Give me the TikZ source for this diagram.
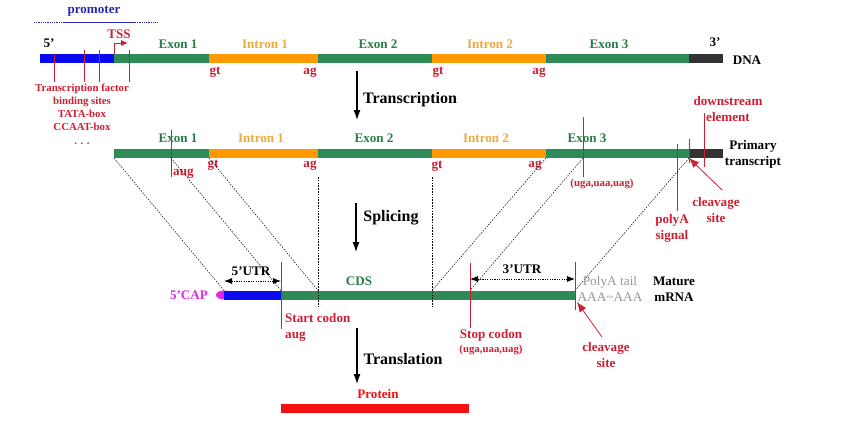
\documentclass[tikz,border=0pt]{standalone}
\usepackage{fontspec}
\setmainfont{Liberation Serif}
\usepackage{tikz}
\usetikzlibrary{positioning,arrows.meta}
\definecolor{exongreen}{RGB}{46,139,87}
\definecolor{intronorange}{RGB}{255,153,0}
\definecolor{exontext}{RGB}{40,125,70}
\definecolor{introntext}{RGB}{238,170,60}
\definecolor{promblue}{RGB}{10,10,240}
\definecolor{promtext}{RGB}{40,40,175}
\definecolor{flankgray}{RGB}{51,51,51}
\definecolor{sitered}{RGB}{205,30,50}
\definecolor{capmagenta}{RGB}{225,40,225}
\definecolor{tailgray}{RGB}{150,150,150}
\definecolor{protred}{RGB}{245,15,15}

\begin{document}
\begin{tikzpicture}[x=1pt, y=-1pt,
  bar/.style={minimum height=9, inner sep=0pt, outer sep=0pt},
  exon/.style={bar, fill=exongreen},
  intron/.style={bar, fill=intronorange},
  prom/.style={bar, fill=promblue},
  flank/.style={bar, fill=flankgray},
  lab/.style={font=\fontsize{13.1}{16}\selectfont\bfseries, inner sep=0pt, align=center},
  small/.style={font=\fontsize{10.8}{13.2}\selectfont\bfseries, inner sep=0pt, align=center},
  proc/.style={font=\fontsize{16}{18}\selectfont\bfseries, inner sep=0pt},
  exlab/.style={lab, text=exontext},
  inlab/.style={lab, text=introntext},
  sitelab/.style={lab, text=sitered},
  redtick/.style={draw=sitered, line width=1pt},
  splice/.style={line width=0.5pt, dash pattern=on 1.5pt off 1.3pt},
  procarr/.style={-{Latex[length=10pt,width=7pt]}, line width=1.1pt},
  cutarr/.style={sitered, line width=0.8pt, -{Latex[length=10pt,width=8pt]}},
  utr/.style={{Latex[length=8pt,width=6pt]}-{Latex[length=8pt,width=6pt]}, line width=0.8pt, dash pattern=on 1.2pt off 1.2pt}
]
\useasboundingbox (0,0) rectangle (844,423);

% DNA
\node[prom, minimum width=74, anchor=west] (dprom) at (40,58.5) {};
\node[exon, minimum width=95, right=0pt of dprom] (dex1) {};
\node[intron, minimum width=109, right=0pt of dex1] (din1) {};
\node[exon, minimum width=114, right=0pt of din1] (dex2) {};
\node[intron, minimum width=114, right=0pt of dex2] (din2) {};
\node[exon, minimum width=143, right=0pt of din2] (dex3) {};
\node[flank, minimum width=34, right=0pt of dex3] (dflank) {};

\node[lab, text=promtext] (promo) at (94,11) {promoter};
\coordinate (pl0) at (34,22);
\coordinate (pl1) at (63,22);
\coordinate (pl2) at (135,22);
\coordinate (pl3) at (157,22);
\draw[promtext, line width=0.8pt, densely dotted] (pl0) -- (pl1);
\draw[promtext, line width=0.8pt] (pl1) -- (pl2);
\draw[promtext, line width=0.8pt, densely dotted] (pl2) -- (pl3);

\node[lab] (d5) at (49,43) {5'};
\node[lab] (d3) at (715,42) {3'};
\node[lab] (dna) at (747,60) {DNA};
\node[sitelab] (tss) at (119,34) {TSS};
\coordinate (tssend) at (128,43);
\draw[sitered, line width=0.9pt, -{Latex[length=7pt,width=6pt]}] (dprom.north east) |- (tssend);

\node[exlab] (dlx1) at (178,44) {Exon 1};
\node[inlab] (dli1) at (265,44) {Intron 1};
\node[exlab] (dlx2) at (378,44) {Exon 2};
\node[inlab] (dli2) at (490,44) {Intron 2};
\node[exlab] (dlx3) at (609,44) {Exon 3};
\node[sitelab] (dgt1) at (215,72.5) {gt};
\node[sitelab] (dag1) at (310,72.5) {ag};
\node[sitelab] (dgt2) at (438,72.5) {gt};
\node[sitelab] (dag2) at (539,72.5) {ag};

\draw[redtick] (54,54) -- (54,82);
\draw[redtick] (84,50) -- (84,82);
\draw[redtick] (99,50) -- (99,82);
\draw[redtick] (129,50) -- (129,82);
\node[small, text=sitered] (tfb) at (82,114) {Transcription factor\\binding sites\\TATA-box\\CCAAT-box\\. . .};

\coordinate (tr0) at (357,71);
\coordinate (tr1) at (357,120);
\draw[procarr] (tr0) -- (tr1);
\node[proc] (transc) at (410,100) {Transcription};

% primary transcript
\node[exon, minimum width=95, anchor=west] (pex1) at (114,153.5) {};
\node[intron, minimum width=109, right=0pt of pex1] (pin1) {};
\node[exon, minimum width=114, right=0pt of pin1] (pex2) {};
\node[intron, minimum width=114, right=0pt of pex2] (pin2) {};
\node[exon, minimum width=143, right=0pt of pin2] (pex3) {};
\node[flank, minimum width=34, right=0pt of pex3] (pflank) {};

\node[exlab] (plx1) at (178,138) {Exon 1};
\node[inlab] (pli1) at (261,138) {Intron 1};
\node[exlab] (plx2) at (374,138) {Exon 2};
\node[inlab] (pli2) at (486,138) {Intron 2};
\node[exlab] (plx3) at (587,138) {Exon 3};
\node[sitelab, anchor=west] (paug) at (173,173.5) {aug};
\node[sitelab] (pgt1) at (213,165.5) {gt};
\node[sitelab] (pag1) at (310,165.5) {ag};
\node[sitelab] (pgt2) at (437,166.5) {gt};
\node[sitelab] (pag2) at (535,165.5) {ag};
\node[small, text=sitered] (pstop) at (602,184) {(uga,uaa,uag)};

\draw[redtick] (171,130) -- (171,177);
\draw[redtick] (583,117) -- (583,177);
\draw[redtick] (677,144) -- (677,211);
\draw[redtick] (689,139) -- (689,163);
\draw[redtick] (704,113) -- (704,167);
\node[sitelab] (polya) at (672,228.5) {polyA\\signal};
\node[sitelab] (pcut) at (716,210) {cleavage\\site};
\node[sitelab] (dse) at (728,109) {downstream\\element};
\node[lab] (prim) at (753,154) {Primary\\transcript};
\coordinate (pcuttail) at (722,190);
\draw[cutarr] (pcuttail) -- (pflank.south west);

\coordinate (sp0) at (356,203);
\coordinate (sp1) at (356,252);
\draw[procarr] (sp0) -- (sp1);
\node[proc] (splic) at (391,218) {Splicing};

% mature mRNA
\fill[capmagenta] (224,295) ellipse [x radius=8, y radius=4.5];
\node[prom, minimum width=57, anchor=west] (mutr5) at (224,295) {};
\node[exon, minimum width=294, right=0pt of mutr5] (mcds) {};

\coordinate (paugp) at (171,158);
\coordinate (pstopp) at (583,158);
\coordinate (mj1) at (318,290.5);
\coordinate (mj2) at (432,290.5);
\coordinate (mstop) at (470,290.5);
\coordinate (vj1a) at (318,177);
\coordinate (vj1b) at (318,308);
\coordinate (vj2a) at (432,177);
\coordinate (vj2b) at (432,308);
\draw[splice] (pex1.south west) -- (mutr5.north west);
\draw[splice] (paugp) -- (mcds.north west);
\draw[splice] (pin1.south west) -- (mj1);
\draw[splice] (pin2.south east) -- (mj2);
\draw[splice] (pstopp) -- (mstop);
\draw[splice] (pflank.south west) -- (mcds.north east);
\draw[splice] (vj1a) -- (vj1b);
\draw[splice] (vj2a) -- (vj2b);

\draw[redtick] (281,262) -- (281,329);
\draw[redtick] (470,263) -- (470,328);
\draw[redtick] (575,262) -- (575,310);

\coordinate (u5a) at (224,281);
\coordinate (u5b) at (281,281);
\coordinate (u3a) at (470,279);
\coordinate (u3b) at (575,279);
\draw[utr] (u5a) -- (u5b);
\draw[utr] (u3a) -- (u3b);
\node[lab] (utr5) at (251,271) {5'UTR};
\node[lab] (utr3) at (522,269) {3'UTR};
\node[lab, text=capmagenta] (cap) at (189,295) {5'CAP};
\node[exlab] (cds) at (359,281) {CDS};
\node[sitelab, anchor=west, align=left] (mstart) at (285,327) {Start codon\\aug};
\node[sitelab] (mstopl) at (491,335) {Stop codon};
\node[small, text=sitered] (mstopc) at (491,350) {(uga,uaa,uag)};
\node[font=\fontsize{13.3}{15.5}\selectfont, text=tailgray, inner sep=0pt, align=center] (tail) at (610,289) {PolyA tail\\AAA\textasciitilde AAA};
\node[lab] (mat) at (674,289) {Mature\\mRNA};
\node[sitelab] (mcut) at (606,355) {cleavage\\site};
\coordinate (mcuttail) at (602,337);
\coordinate (mcuthead) at (577,302);
\draw[cutarr] (mcuttail) -- (mcuthead);

\coordinate (tl0) at (357,328);
\coordinate (tl1) at (357,384);
\draw[procarr] (tl0) -- (tl1);
\node[proc] (transl) at (403,359) {Translation};

% protein
\node[sitelab, text=protred] (protl) at (378,394) {Protein};
\node[bar, fill=protred, minimum width=188, anchor=west] (prot) at (281,408.5) {};
\end{tikzpicture}
\end{document}
